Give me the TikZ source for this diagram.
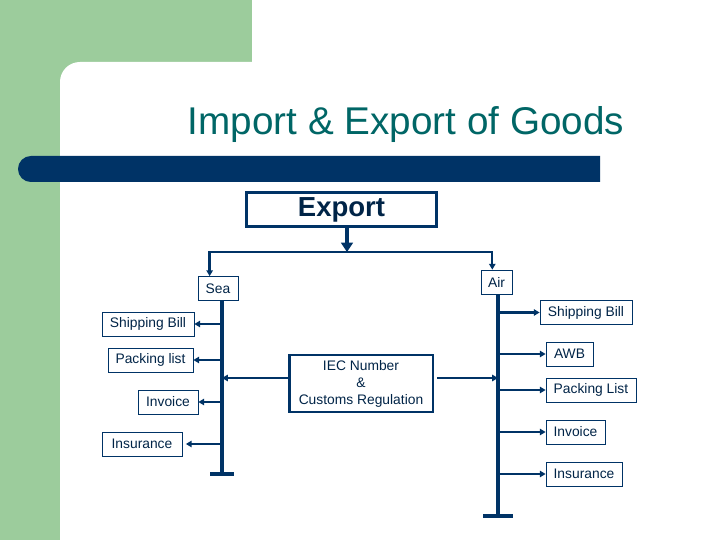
\documentclass[tikz,border=0pt]{standalone}
\usepackage{fontspec}
\setmainfont{Liberation Sans}
\usetikzlibrary{arrows.meta}

\definecolor{navy}{RGB}{0,51,102}
\definecolor{verdeacqua}{RGB}{0,102,102}
\definecolor{verde}{RGB}{156,204,156}

\tikzset{
	box/.style={draw=navy, line width=0.6pt, minimum height=0.72cm, inner sep=1pt,
		text=navy!70!black, font=\fontsize{11.8}{14}\selectfont},
	bigbox/.style={draw=navy, line width=2.4pt, text=navy!70!black},
	tronco/.style={navy, line width=2.6pt},
	ramo/.style={navy, line width=2pt, -{Triangle[length=5pt,width=5.5pt]}},
}

\begin{document}
\begin{tikzpicture}[x=0.03cm, y=-0.03cm]
	\useasboundingbox (0,0) rectangle (720,540);
	% Sfondo
	\fill[verde] (0,0) rectangle (252,95);
	\fill[verde] (0,0) rectangle (60,540);
	\fill[white, rounded corners=17pt] (60,62) rectangle (780,600);
	\fill[navy] (600,156) [rounded corners=11pt] -- (18,156) -- (18,182) [sharp corners] -- (600,182) -- cycle;
	
	% Titolo
	\node[text=verdeacqua, font=\fontsize{33}{38}\selectfont] (titolo) at (406,125) {Import \& Export of Goods};
	
	% Export e biforcazione
	\node[bigbox, minimum width=5.7cm, minimum height=1.03cm, font=\fontsize{23.5}{26}\bfseries] (export) at (341.5,209.5) {Export};
	\coordinate (bivio) at (347,252);
	\draw[tronco, -{Triangle[length=8pt,width=10pt]}] (export.south -| bivio) -- (bivio);
	
	\node[box, minimum width=1.2cm] (sea) at (218,288.5) {Sea};
	\node[box, minimum width=0.93cm] (air) at (496.5,282) {Air};
	\draw[ramo, {Triangle[length=5pt,width=5.5pt]}-{Triangle[length=5pt,width=5.5pt]}] ([xshift=0.36cm]sea.north west) |- (bivio) -| ([xshift=0.35cm]air.north west);
	
	% Tronchi
	\coordinate (seaFondo) at (222,474);
	\coordinate (airFondo) at (498,516);
	\draw[tronco] (sea.south -| seaFondo) -- (seaFondo);
	\draw[tronco] (seaFondo) ++(-12,0) -- ++(24,0);
	\draw[tronco] (air.south -| airFondo) -- (airFondo);
	\draw[tronco] (airFondo) ++(-15,0) -- ++(30,0);
	
	% Documenti via mare
	\foreach \n/\x/\y/\w/\t in {sb1/148/324/2.76/Shipping Bill, pl1/150.5/360/2.55/Packing list,
		inv1/168/402/1.8/Invoice, ins1/142/444/2.4/Insurance}
	\node[box, minimum width=\w cm] (\n) at (\x,\y) {\t};
	\foreach \n in {sb1, pl1, inv1} \draw[ramo] (seaFondo |- \n.east) -- (\n.east);
	\draw[ramo, shorten >=3pt] (seaFondo |- ins1.east) -- (ins1.east);
	
	% Documenti via aerea
	\foreach \n/\x/\y/\w/\t in {sb2/586/312.5/2.76/Shipping Bill, awb/569.5/354/1.41/AWB,
		pl2/591/390/2.7/Packing List, inv2/575.5/432/1.77/Invoice, ins2/584/474/2.28/Insurance}
	\node[box, minimum width=\w cm] (\n) at (\x,\y) {\t};
	\foreach \n in {sb2, awb, pl2, inv2, ins2} \draw[ramo] (airFondo |- \n.west) -- (\n.west);
	
	% IEC
	\node[bigbox, line width=2pt, minimum width=4.3cm, minimum height=1.7cm, align=center,
	font=\fontsize{11.8}{14.5}\selectfont] (iec) at (361,383.5) {IEC Number\\\&\\Customs Regulation};
	\coordinate (iecL) at ([yshift=4.7pt]iec.west);
	\coordinate (iecR) at ([yshift=4.7pt]iec.east);
	\draw[ramo] (iecL) -- (seaFondo |- iecL);
	\draw[ramo, shorten <=3pt] (iecR) -- (airFondo |- iecR);
\end{tikzpicture}
\end{document}
